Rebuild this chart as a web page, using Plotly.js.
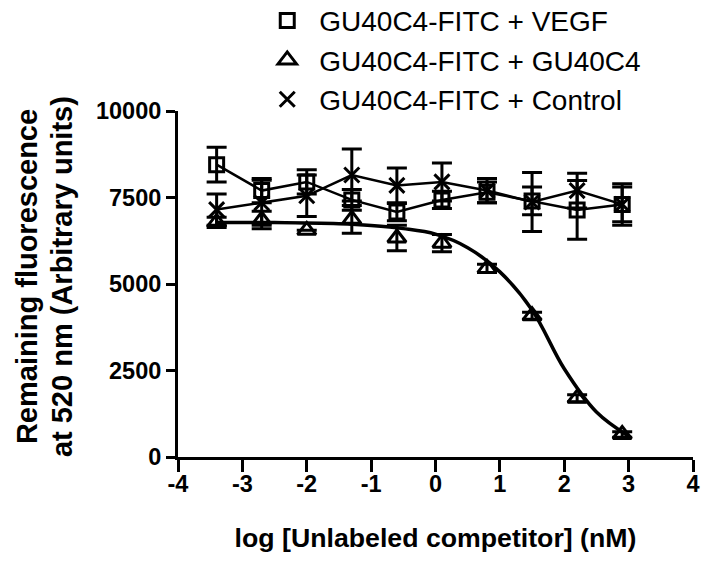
<!DOCTYPE html>
<html>
<head>
<meta charset="utf-8">
<script src="https://cdn.plot.ly/plotly-3.0.1.min.js"></script>
<style>
    html, body { margin: 0; padding: 0; background: #fff; }
    #chart { width: 716px; height: 563px; }
</style>
</head>
<body>
<div id="chart"></div>
<script>
// --- DATA ---
const logConc = [-3.4, -2.7, -2.0, -1.3, -0.6, 0.1, 0.8, 1.5, 2.2, 2.9];

const vegfY   = [8450, 7700, 7950, 7430, 7080, 7430, 7650, 7400, 7140, 7300];
const vegfErr = [500, 350, 350, 300, 250, 250, 300, 400, 850, 500];

const gu40Y   = [6780, 6850, 6550, 6870, 6330, 6180, 5450, 4080, 1700, 650];
const gu40Err = [150, 250, 0, 400, 370, 250, 120, 100, 100, 80];

const ctrlY   = [7150, 7350, 7550, 8150, 7850, 7950, 7700, 7370, 7700, 7300];
const ctrlErr = [450, 650, 600, 750, 500, 550, 350, 850, 500, 600];

// fitted competition curve for GU40C4
const fitX = [-3.4, -2.5, -1.5, -1.0, -0.5, 0.0, 0.5, 1.0, 1.5, 2.0, 2.5, 3.0];
const fitY = [6780, 6775, 6740, 6690, 6600, 6440, 6050, 5350, 4250, 2550, 1300, 600];

const seriesNames = ['GU40C4-FITC + VEGF', 'GU40C4-FITC + GU40C4', 'GU40C4-FITC + Control'];
const xTicks = [-4, -3, -2, -1, 0, 1, 2, 3, 4];
const yTicks = [0, 2500, 5000, 7500, 10000];
const yTitleLines = ['Remaining fluorescence', 'at 520 nm (Arbitrary units)'];

document.addEventListener('DOMContentLoaded', () => {
    const chartDiv = document.getElementById('chart');
    const ink = '#000';

    function errBar(arr) {
        return { type: 'data', array: arr, visible: true, color: ink, thickness: 3, width: 10 };
    }

    function connector(y) {
        return {
            x: logConc, y: y, type: 'scatter', mode: 'lines',
            line: { color: ink, width: 2.5 }, showlegend: false, hoverinfo: 'skip'
        };
    }

    function points(name, y, err, symbol, size, group) {
        return {
            x: logConc, y: y, name: name, type: 'scatter', mode: 'markers',
            legendgroup: group,
            marker: { symbol: symbol, size: size, color: ink, line: { color: ink, width: 3 } },
            error_y: errBar(err)
        };
    }

    const traces = [
        connector(vegfY),
        connector(ctrlY),
        {
            x: fitX, y: fitY, type: 'scatter', mode: 'lines',
            line: { color: ink, width: 3.5, shape: 'spline' },
            showlegend: false, hoverinfo: 'skip'
        },
        points(seriesNames[0], vegfY, vegfErr, 'square-open', 14, 'a'),
        points(seriesNames[1], gu40Y, gu40Err, 'triangle-up-open', 16, 'b'),
        points(seriesNames[2], ctrlY, ctrlErr, 'x-thin-open', 15, 'c')
    ];

    // y title drawn as two rotated lines so each can sit where the reference has it
    const yTitle = yTitleLines.map((txt, i) => ({
        text: txt, xref: 'paper', yref: 'paper',
        x: i === 0 ? -0.2932 : -0.2252, y: 0.52,
        xanchor: 'center', yanchor: 'middle', textangle: -90, showarrow: false,
        font: { size: 29, weight: 'bold', color: ink }
    }));

    const layout = {
        width: 716,
        height: 563,
        paper_bgcolor: '#fff',
        plot_bgcolor: '#fff',
        font: { family: 'Liberation Sans, Arial, sans-serif', color: ink },
        margin: { l: 178, r: 23, t: 111, b: 106, autoexpand: false },
        showlegend: true,
        legend: {
            x: 0.15, y: 1.333, xanchor: 'left', yanchor: 'top',
            font: { size: 28, color: ink },
            itemwidth: 54,
            traceorder: 'grouped', tracegroupgap: 0,
            bgcolor: 'rgba(0,0,0,0)'
        },
        annotations: yTitle,
        xaxis: {
            range: [-4, 4],
            tickvals: xTicks,
            ticktext: xTicks.map(String),
            ticks: 'outside', ticklen: 12, tickwidth: 3, tickcolor: ink,
            ticklabelstandoff: -8,
            showline: true, linewidth: 3, linecolor: ink,
            showgrid: false, zeroline: false,
            tickfont: { size: 23.5, weight: 'bold' },
            title: { text: 'log [Unlabeled competitor] (nM)', font: { size: 26.7, weight: 'bold' }, standoff: 33 }
        },
        yaxis: {
            range: [0, 10000],
            tickvals: yTicks,
            ticktext: yTicks.map(String),
            ticks: 'outside', ticklen: 9, tickwidth: 3, tickcolor: ink,
            showline: true, linewidth: 3, linecolor: ink,
            showgrid: false, zeroline: false,
            tickfont: { size: 23.5, weight: 'bold' }
        }
    };

    Plotly.newPlot(chartDiv, traces, layout, { displayModeBar: false, staticPlot: true });
});
</script>
</body>
</html>
